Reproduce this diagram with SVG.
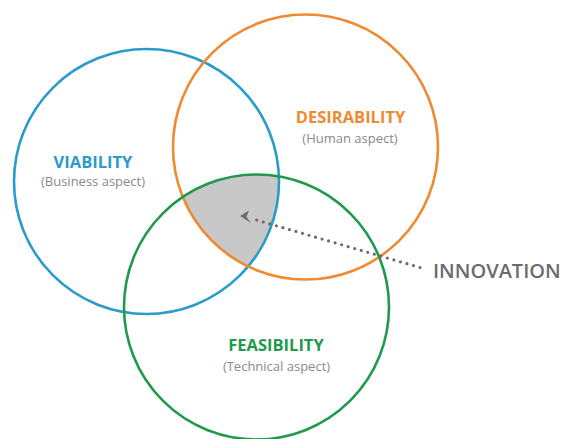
<svg xmlns="http://www.w3.org/2000/svg" width="564" height="439" viewBox="0 0 564 439">
  <style>
    .ring { fill: none; stroke-width: 2.6; }
    .title { font-family: "Open Sans", "Liberation Sans", sans-serif; font-weight: 700; font-size: 16.5px; text-anchor: middle; }
    .sub { font-family: "Open Sans", "Liberation Sans", sans-serif; font-size: 13px; fill: #8a8a8a; text-anchor: middle; }
  </style>
  <defs>
    <clipPath id="clipBlue"><circle cx="146.5" cy="181.5" r="132.5"/></clipPath>
    <clipPath id="clipOrange"><circle cx="305.5" cy="147" r="132.5"/></clipPath>
  </defs>

  <rect width="564" height="439" fill="#ffffff"/>

  <!-- shared area of all three circles -->
  <g id="overlap" clip-path="url(#clipBlue)">
    <circle cx="256.5" cy="307" r="132.5" fill="#c8c8c8" clip-path="url(#clipOrange)"/>
  </g>

  <g id="viability">
    <circle class="ring" cx="146.5" cy="181.5" r="132.5" stroke="#2a9bcb"/>
    <text class="title" x="93" y="167.5" fill="#2a9bcb">VIABILITY</text>
    <text class="sub" x="93" y="186">(Business aspect)</text>
  </g>

  <g id="desirability">
    <circle class="ring" cx="305.5" cy="147" r="132.5" stroke="#f08a30"/>
    <text class="title" x="350.5" y="123" fill="#f08a30">DESIRABILITY</text>
    <text class="sub" x="350" y="143">(Human aspect)</text>
  </g>

  <g id="feasibility">
    <circle class="ring" cx="256.5" cy="307" r="132.5" stroke="#1f9a4c"/>
    <text class="title" x="276" y="351" fill="#1f9a4c">FEASIBILITY</text>
    <text class="sub" x="276.5" y="370.5">(Technical aspect)</text>
  </g>

  <g id="innovation">
    <text x="433" y="278" font-family="'Open Sans', 'Liberation Sans', sans-serif" font-weight="600" font-size="20px" fill="#6b6b6b">INNOVATION</text>
  </g>

  <g id="connectors">
    <line x1="420" y1="267.5" x2="253" y2="219" stroke="#6b6b6b" stroke-width="3.2" stroke-linecap="round" stroke-dasharray="0 6.8"/>
    <polygon points="240,216 249,210.5 246.5,217 251,223" fill="#6b6b6b"/>
  </g>
</svg>
